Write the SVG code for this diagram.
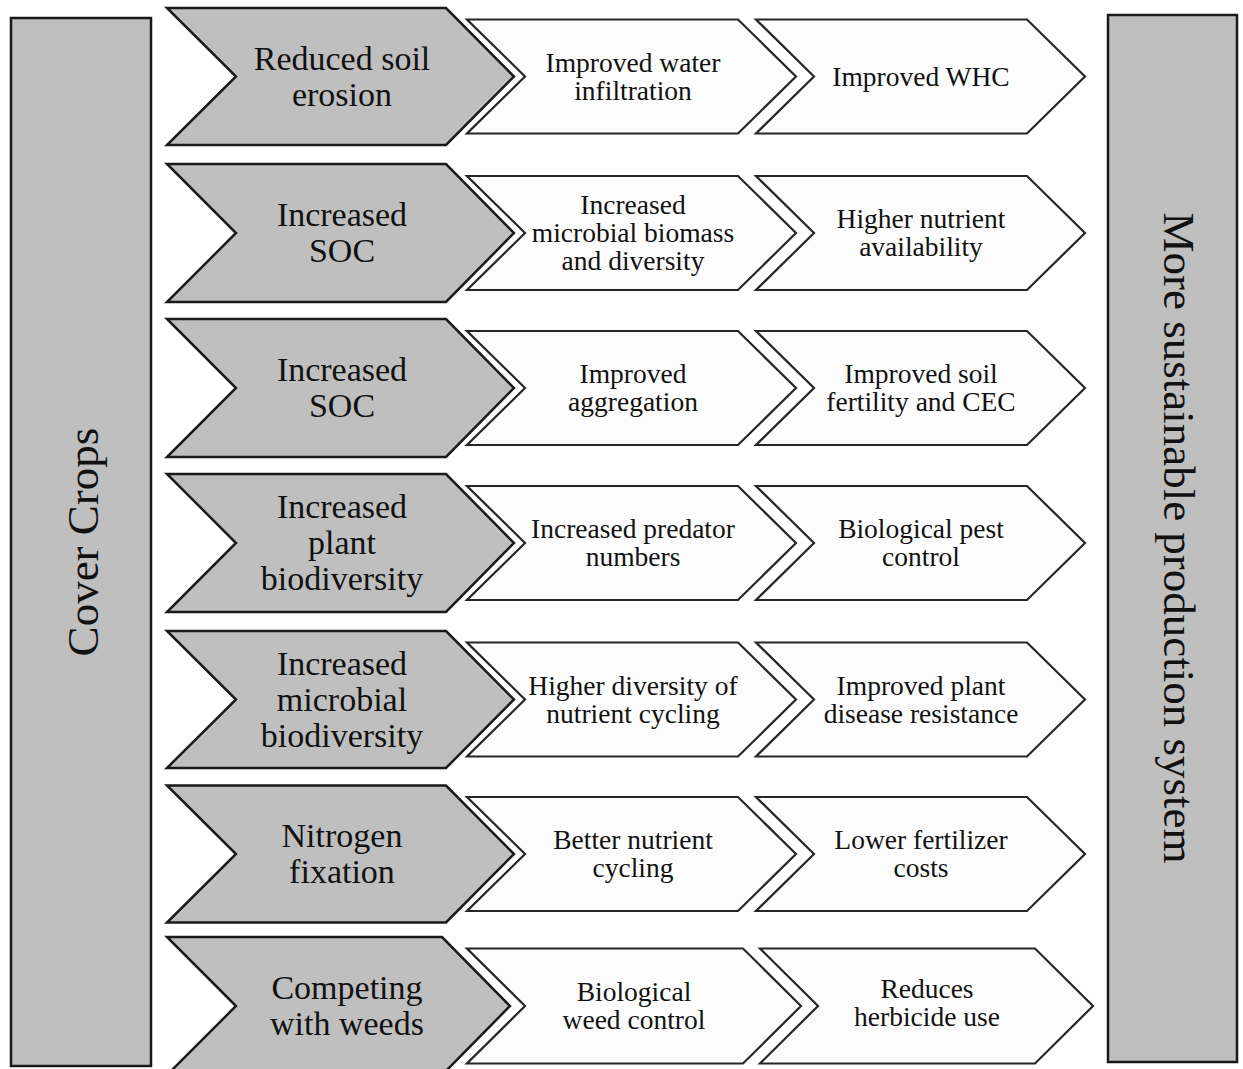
<svg xmlns="http://www.w3.org/2000/svg" width="1243" height="1069" viewBox="0 0 1243 1069">
<style>
.side{fill:#bfbfbf;stroke:#1a1a1a;stroke-width:2.5}
.g{fill:#bfbfbf;stroke:#1a1a1a;stroke-width:2.5;stroke-linejoin:miter}
.l{fill:#fcfcfc;stroke:#262626;stroke-width:2.2;stroke-linejoin:miter}
text{font-family:"Liberation Serif","Times New Roman",serif;fill:#111;text-anchor:middle}
.tg{font-size:34px}
.tl{font-size:27.5px}
.ts{font-size:45px}
</style>
<rect width="1243" height="1069" fill="#fff"/>
<g id="cover-crops">
<rect class="side" x="11" y="18" width="140" height="1048"/>
<text class="ts" transform="translate(98,542) rotate(-90)">Cover Crops</text>
</g>
<g id="sustainable-system">
<rect class="side" x="1108" y="15" width="129" height="1047"/>
<text class="ts" transform="translate(1164,538) rotate(90)">More sustainable production system</text>
</g>
<g id="row1">
<polygon class="g" points="167,8 446,8 514,76.5 446,145 167,145 236,76.5"/>
<text class="tg" x="342"><tspan x="342" y="69.5">Reduced soil</tspan><tspan x="342" y="105.5">erosion</tspan></text>
<polygon class="l" points="467,19.5 738,19.5 796,76.5 738,133.5 467,133.5 525,76.5"/>
<text class="tl"><tspan x="633" y="71.5">Improved water</tspan><tspan x="633" y="99.5">infiltration</tspan></text>
<polygon class="l" points="756,19.5 1027,19.5 1085,76.5 1027,133.5 756,133.5 814,76.5"/>
<text class="tl"><tspan x="921" y="85.5">Improved WHC</tspan></text>
</g>
<g id="row2">
<polygon class="g" points="167,164 446,164 514,233 446,302 167,302 236,233"/>
<text class="tg"><tspan x="342" y="226">Increased</tspan><tspan x="342" y="262">SOC</tspan></text>
<polygon class="l" points="467,176 738,176 796,233 738,290 467,290 525,233"/>
<text class="tl"><tspan x="633" y="214">Increased</tspan><tspan x="633" y="242">microbial biomass</tspan><tspan x="633" y="270">and diversity</tspan></text>
<polygon class="l" points="756,176 1027,176 1085,233 1027,290 756,290 814,233"/>
<text class="tl"><tspan x="921" y="228">Higher nutrient</tspan><tspan x="921" y="256">availability</tspan></text>
</g>
<g id="row3">
<polygon class="g" points="167,319 446,319 514,388 446,457 167,457 236,388"/>
<text class="tg"><tspan x="342" y="381">Increased</tspan><tspan x="342" y="417">SOC</tspan></text>
<polygon class="l" points="467,331 738,331 796,388 738,445 467,445 525,388"/>
<text class="tl"><tspan x="633" y="383">Improved</tspan><tspan x="633" y="411">aggregation</tspan></text>
<polygon class="l" points="756,331 1027,331 1085,388 1027,445 756,445 814,388"/>
<text class="tl"><tspan x="921" y="383">Improved soil</tspan><tspan x="921" y="411">fertility and CEC</tspan></text>
</g>
<g id="row4">
<polygon class="g" points="167,474 446,474 514,543 446,612 167,612 236,543"/>
<text class="tg"><tspan x="342" y="518">Increased</tspan><tspan x="342" y="554">plant</tspan><tspan x="342" y="590">biodiversity</tspan></text>
<polygon class="l" points="467,486 738,486 796,543 738,600 467,600 525,543"/>
<text class="tl"><tspan x="633" y="538">Increased predator</tspan><tspan x="633" y="566">numbers</tspan></text>
<polygon class="l" points="756,486 1027,486 1085,543 1027,600 756,600 814,543"/>
<text class="tl"><tspan x="921" y="538">Biological pest</tspan><tspan x="921" y="566">control</tspan></text>
</g>
<g id="row5">
<polygon class="g" points="167,631 446,631 514,699.5 446,768 167,768 236,699.5"/>
<text class="tg"><tspan x="342" y="674.5">Increased</tspan><tspan x="342" y="710.5">microbial</tspan><tspan x="342" y="746.5">biodiversity</tspan></text>
<polygon class="l" points="467,642.5 738,642.5 796,699.5 738,756.5 467,756.5 525,699.5"/>
<text class="tl"><tspan x="633" y="694.5">Higher diversity of</tspan><tspan x="633" y="722.5">nutrient cycling</tspan></text>
<polygon class="l" points="756,642.5 1027,642.5 1085,699.5 1027,756.5 756,756.5 814,699.5"/>
<text class="tl"><tspan x="921" y="694.5">Improved plant</tspan><tspan x="921" y="722.5">disease resistance</tspan></text>
</g>
<g id="row6">
<polygon class="g" points="167,785.5 446,785.5 514,854 446,922.5 167,922.5 236,854"/>
<text class="tg"><tspan x="342" y="847">Nitrogen</tspan><tspan x="342" y="883">fixation</tspan></text>
<polygon class="l" points="467,797 738,797 796,854 738,911 467,911 525,854"/>
<text class="tl"><tspan x="633" y="849">Better nutrient</tspan><tspan x="633" y="877">cycling</tspan></text>
<polygon class="l" points="756,797 1027,797 1085,854 1027,911 756,911 814,854"/>
<text class="tl"><tspan x="921" y="849">Lower fertilizer</tspan><tspan x="921" y="877">costs</tspan></text>
</g>
<g id="row7">
<polygon class="g" points="167,937 442,937 510,1006 442,1075 167,1075 236,1006"/>
<text class="tg"><tspan x="347" y="999">Competing</tspan><tspan x="347" y="1035">with weeds</tspan></text>
<polygon class="l" points="467,948.5 743,948.5 801,1006 743,1063.5 467,1063.5 525,1006"/>
<text class="tl"><tspan x="634" y="1001">Biological</tspan><tspan x="634" y="1029">weed control</tspan></text>
<polygon class="l" points="760,948.5 1035,948.5 1093,1006 1035,1063.5 760,1063.5 818,1006"/>
<text class="tl"><tspan x="927" y="998">Reduces</tspan><tspan x="927" y="1026">herbicide use</tspan></text>
</g>
<g id="connectors"></g>
</svg>
